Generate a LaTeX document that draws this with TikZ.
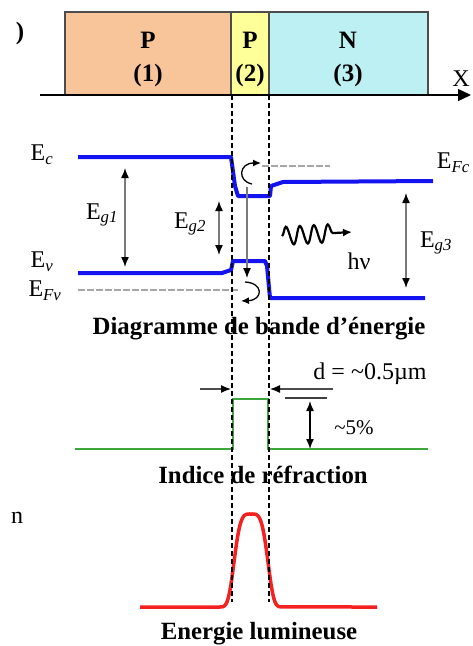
\documentclass[tikz,border=0pt]{standalone}
\usepackage{fontspec}
\setmainfont{Liberation Serif}
\usetikzlibrary{arrows.meta,decorations.pathmorphing}
\definecolor{peach}{HTML}{F8C49A}
\definecolor{pyellow}{HTML}{FFFF99}
\definecolor{ncyan}{HTML}{BDF0F2}
\definecolor{bandblue}{HTML}{1414F0}
\definecolor{idxgreen}{HTML}{3CA83C}
\definecolor{lightred}{HTML}{F52020}
\definecolor{dimgray}{HTML}{7A7A7A}
\newcommand{\esub}[1]{E\textsubscript{\itshape #1}}
\tikzset{
  region/.style={draw=black!70, line width=1.3pt},
  boxtxt/.style={font=\bfseries\fontsize{25}{27}\selectfont, inner sep=0pt},
  lbl/.style={font=\fontsize{24}{26}\selectfont, inner sep=0pt},
  captxt/.style={font=\bfseries\fontsize{24.8}{27}\selectfont, inner sep=0pt},
  band/.style={draw=bandblue, line width=4pt, line join=round},
  fermi/.style={draw=black!35, line width=1.6pt, dash pattern=on 7pt off 2pt},
  dimarrow/.style={draw=dimgray, line width=1.4pt, {Latex[color=black,length=10pt,width=8pt]}-{Latex[color=black,length=10pt,width=8pt]}},
  onearrow/.style={draw=black!70, line width=1.2pt, -{Latex[color=black,length=10pt,width=8pt]}},
  guide/.style={draw=black, line width=1.2pt, dash pattern=on 5pt off 3pt}
}
\begin{document}
\begin{tikzpicture}[x=1pt,y=-1pt]
\path[use as bounding box] (0,0) rectangle (472,646);
\clip (0,0) rectangle (472,646);

% --- layer structure
\filldraw[region, fill=peach] (65,12) rectangle (231,95);
\filldraw[region, fill=pyellow] (231,12) rectangle (269,95);
\filldraw[region, fill=ncyan] (269,12) rectangle (428,95);
\coordinate (ax0) at (40,95);
\coordinate (ax1) at (471,95);
\draw[line width=1.3pt, -{Triangle[length=13pt,width=12pt]}] (ax0) -- (ax1);
\node[lbl] (xlab) at (461,79) {X};
\node[boxtxt] (bpar) at (20,33) {)};
\node[boxtxt] (p1) at (148,40) {P};
\node[boxtxt] (n1) at (148,75) {(1)};
\node[boxtxt] (p2) at (250,40) {P};
\node[boxtxt] (n2) at (250,75) {(2)};
\node[boxtxt] (p3) at (348,40) {N};
\node[boxtxt] (n3) at (348,75) {(3)};

% --- energy band diagram
\draw[band] (78,157) -- (231,157) -- (235,186) -- (238,196) -- (270,196) -- (271,186) -- (283,182) -- (433,181);
\draw[band] (78,273) -- (222,273) -- (231,270) -- (233,261) -- (265,261) -- (267,266) -- (270,298) -- (425,298);
\draw[fermi] (262,166) -- (330,166);
\draw[fermi] (78,290) -- (240,290);

\node[lbl] (ec) at (42,155) {\esub{c}};
\node[lbl, anchor=east] (efc) at (470,163) {\esub{Fc}};
\node[lbl] (ev) at (42,262) {\esub{v}};
\node[lbl] (efv) at (45,291) {\esub{Fv}};

\coordinate (g1a) at (125,168); \coordinate (g1b) at (125,267);
\draw[dimarrow] (g1a) -- (g1b);
\node[lbl] (eg1) at (102,215) {\esub{g1}};
\coordinate (g2a) at (219,201); \coordinate (g2b) at (219,255);
\draw[dimarrow] (g2a) -- (g2b);
\node[lbl] (eg2) at (190,224) {\esub{g2}};
\coordinate (g3a) at (406,193); \coordinate (g3b) at (406,288);
\draw[dimarrow] (g3a) -- (g3b);
\node[lbl] (eg3) at (436,243) {\esub{g3}};

\coordinate (rec0) at (247,187); \coordinate (rec1) at (247,278);
\draw[onearrow, draw=dimgray] (rec0) -- (rec1);
\draw[line width=1.3pt, -{Latex[length=8pt,width=7pt]}] (252,184) .. controls (237,181) and (239,163) .. (261,163);
\draw[line width=1.3pt, -{Latex[length=8pt,width=7pt]}] (245,282) .. controls (264,283) and (263,300) .. (241,301);

\coordinate (w0) at (282,236); \coordinate (w1) at (352,232);
\draw[line width=2.2pt, decorate, decoration={snake, amplitude=9pt, segment length=14pt, post length=13pt}, -{Latex[length=9pt,width=8pt]}] (w0) -- (w1);
\node[lbl] (hnu) at (359,261) {hν};
\node[captxt] (cap1) at (259,329) {Diagramme de bande d'énergie};

% --- refractive index
\draw[draw=idxgreen, line width=2.5pt] (75,449) -- (233,449) -- (233,399) -- (268,399) -- (268,449) -- (428,449);
\coordinate (da0) at (200,389); \coordinate (da1) at (231,389);
\coordinate (db0) at (333,389); \coordinate (db1) at (270,389);
\draw[onearrow] (da0) -- (da1);
\draw[onearrow] (db0) -- (db1);
\draw[line width=2.5pt, black!75] (285,398) -- (327,398);
\coordinate (pa) at (310,401); \coordinate (pb) at (310,449);
\draw[dimarrow, draw=black] (pa) -- (pb);
\node[lbl] (dlab) at (370,374) {d = \textasciitilde 0.5µm};
\node[lbl, font=\fontsize{21}{23}\selectfont] (pct) at (354,428) {\textasciitilde 5\%};
\node[captxt] (cap2) at (263,475) {Indice de réfraction};

% --- light energy
\draw[lightred, line width=3.5pt, line join=round] (140,607) -- (220,607)
  -- plot[domain=220:282, samples=80] (\x, {607-93*exp(-(((\x-251)/18.4)*((\x-251)/18.4))*(((\x-251)/18.4)*((\x-251)/18.4)))})
  -- (377,607);
\node[lbl] (nlab) at (17,518) {n};
\node[captxt] (cap3) at (259,634) {Energie lumineuse};

% --- guide lines
\coordinate (v1a) at (232,95); \coordinate (v1b) at (232,602);
\coordinate (v2a) at (269,95); \coordinate (v2b) at (269,602);
\draw[guide] (v1a) -- (v1b);
\draw[guide] (v2a) -- (v2b);
\end{tikzpicture}
\end{document}
